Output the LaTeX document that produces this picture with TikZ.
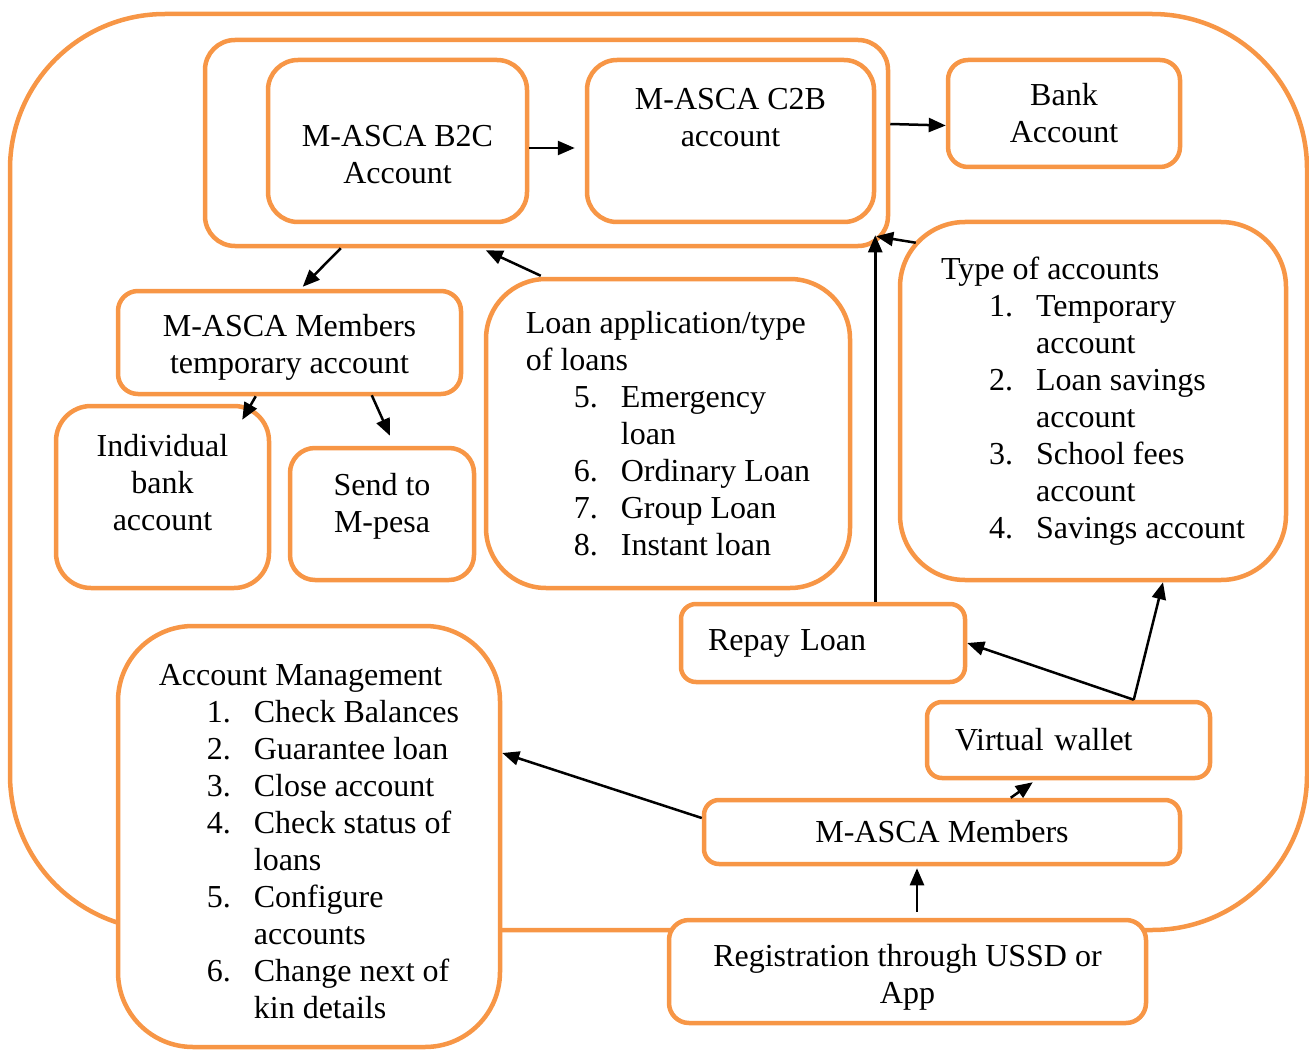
\documentclass[tikz,border=0pt]{standalone}
\usepackage{fontspec}
\setmainfont{Liberation Serif}
\usepackage{tikz}
\usetikzlibrary{arrows.meta}
\definecolor{boxorange}{RGB}{247,150,70}
\newcommand{\padtop}[1]{\rule{0pt}{#1}}
\newcommand{\padbot}[1]{\rule[-#1]{0pt}{#1}}
\newcommand{\itm}[2]{\hspace*{48pt}\makebox[47pt][l]{#1}#2}
\newcommand{\cont}[1]{\hspace*{95pt}#1}

\begin{document}
\begin{tikzpicture}[x=1pt, y=-1pt,
    rbox/.style={draw=boxorange, line width=4.5pt, fill=white, inner sep=0pt, font=\fontsize{32}{37}\selectfont},
    conn/.style={line width=2.5pt, -{Triangle[length=17pt,width=14pt]}}]

    \useasboundingbox (0,0) rectangle (1309,1051);

    % outer frame
    \draw[boxorange, line width=4.5pt, rounded corners=155pt] (10,14) rectangle (1307,930);

    \node[rbox, rounded corners=30pt, minimum width=683pt, minimum height=206pt] (group) at (546.5,143) {};
    \node[rbox, rounded corners=30pt, minimum width=259pt, minimum height=162pt, align=center] (b2c) at (397.5,141) {\padtop{48pt}M-ASCA B2C\\Account};
    \node[rbox, rounded corners=30pt, minimum width=287pt, minimum height=162pt, align=center] (c2b) at (730.5,141) {M-ASCA C2B\\account\padbot{48pt}};
    \node[rbox, rounded corners=20pt, minimum width=232pt, minimum height=107pt, align=center] (bank) at (1064,113.5) {Bank\\Account};

    \node[rbox, rounded corners=65pt, minimum width=386pt, minimum height=358pt, align=left] (types) at (1093,401)
        {Type of accounts\\ \itm{1.}{Temporary}\\ \cont{account}\\ \itm{2.}{Loan savings}\\ \cont{account}\\ \itm{3.}{School fees}\\ \cont{account}\\ \itm{4.}{Savings account}};

    \node[rbox, rounded corners=20pt, minimum width=343pt, minimum height=103pt, align=center] (temp) at (289.5,342.5) {\padtop{32pt}M-ASCA Members\\temporary account};
    \node[rbox, rounded corners=35pt, minimum width=213pt, minimum height=182pt, align=center] (indiv) at (162.5,497) {Individual\\bank\\account\padbot{30pt}};
    \node[rbox, rounded corners=25pt, minimum width=184pt, minimum height=132pt, align=center] (mpesa) at (382,514) {Send to\\M-pesa\padbot{23pt}};

    \node[rbox, rounded corners=60pt, minimum width=364pt, minimum height=309pt, align=left] (loans) at (668,433.5)
        {Loan application/type\\of loans\\ \itm{5.}{Emergency}\\ \cont{loan}\\ \itm{6.}{Ordinary Loan}\\ \itm{7.}{Group Loan}\\ \itm{8.}{Instant loan}};

    \node[rbox, rounded corners=15pt, inner xsep=27pt, text width=230pt, minimum height=78pt, align=left] (repay) at (823,643) {Repay Loan};
    \node[rbox, rounded corners=15pt, inner xsep=28pt, text width=227pt, minimum height=76pt, align=left] (wallet) at (1068.5,740) {Virtual wallet};
    \node[rbox, rounded corners=15pt, minimum width=476pt, minimum height=64pt] (members) at (942,832) {M-ASCA Members};
    \node[rbox, rounded corners=20pt, minimum width=477pt, minimum height=103pt, align=center] (regist) at (907.5,971.5) {\padtop{34pt}Registration through USSD or\\App};

    \node[rbox, rounded corners=75pt, minimum width=382pt, minimum height=421pt, align=left] (manage) at (309,836.5)
        {\padtop{32pt}Account Management\\ \itm{1.}{Check Balances}\\ \itm{2.}{Guarantee loan}\\ \itm{3.}{Close account}\\ \itm{4.}{Check status of}\\ \cont{loans}\\ \itm{5.}{Configure}\\ \cont{accounts}\\ \itm{6.}{Change next of}\\ \cont{kin details}};

    % connectors
    \draw[conn] ([yshift=-7pt]b2c.east) -- ([xshift=-10pt,yshift=-7pt]c2b.west);
    \draw[conn] ([yshift=19pt]group.east) -- ([yshift=-12pt]bank.west);
    \draw[conn] ([xshift=18pt,yshift=-23pt]types.north west) -- ([xshift=-14pt,yshift=12pt]group.south east);
    \draw[conn] ([xshift=138pt]group.south west) -- ([xshift=187pt,yshift=2pt]temp.north west);
    \draw[conn] ([xshift=57pt,yshift=1pt]loans.north west) -- ([xshift=283pt,yshift=-2pt]group.south west);
    \draw[conn] ([xshift=140pt]temp.south west) -- ([xshift=-29pt,yshift=-16pt]indiv.north east);
    \draw[conn] ([xshift=256pt,yshift=1pt]temp.south west) -- ([xshift=8pt,yshift=10pt]mpesa.north);
    \draw[conn] ([xshift=-92pt]repay.north east) -- ([xshift=-15pt,yshift=13pt]group.south east);
    \draw[conn] ([xshift=209pt]wallet.north west) -- (repay.east);
    \draw[conn] ([xshift=209pt]wallet.north west) -- ([xshift=70pt]types.south);
    \draw[conn] ([xshift=309pt]members.north west) -- ([xshift=108pt,yshift=-2pt]wallet.south west);
    \draw[conn] ([yshift=14pt]members.west) -- ([yshift=83.5pt]manage.east);
    \draw[conn] ([xshift=9.5pt,yshift=6pt]regist.north) -- ([xshift=-25pt,yshift=-2pt]members.south);

\end{tikzpicture}
\end{document}
